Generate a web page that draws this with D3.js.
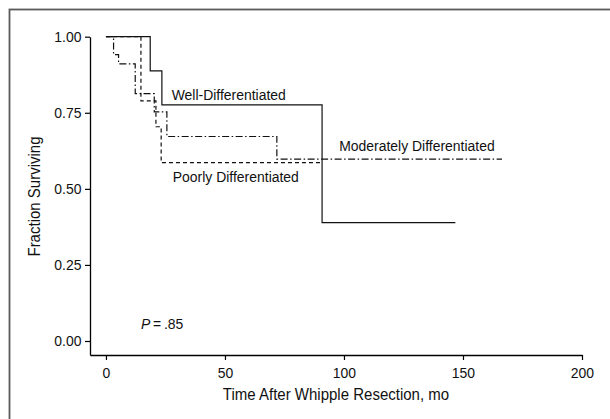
<!DOCTYPE html>
<html>
<head>
<meta charset="utf-8">
<script src="https://cdn.jsdelivr.net/npm/d3@7"></script>
<style>
  html, body { margin: 0; padding: 0; background: #fff; }
  svg { display: block; }
  text { font-family: "Liberation Sans", Arial, Helvetica, sans-serif; fill: #111; }
</style>
</head>
<body>
<svg id="chart" width="610" height="419"></svg>
<script>
// ---- Data (Kaplan-Meier step curves) ----
const wellTimes = [0, 18.6, 23.5, 90.8];
const wellSurv  = [1.00, 0.888, 0.776, 0.389];
const wellEnd   = 146.8;

const modTimes = [0, 3.2, 5.3, 12.3, 20.3, 25.6, 71.8];
const modSurv  = [1.00, 0.941, 0.911, 0.813, 0.753, 0.672, 0.598];
const modEnd   = 166.4;

const poorTimes = [0, 14.7, 21.0, 23.2];
const poorSurv  = [1.00, 0.789, 0.704, 0.586];
const poorEnd   = 90.8;

const xTicks = [0, 50, 100, 150, 200];
const yTicks = [0, 0.25, 0.50, 0.75, 1.00];

const labelNames = ["Well-Differentiated", "Moderately Differentiated", "Poorly Differentiated"];
const labelX = [27.6, 98.0, 28.1];
const labelY = [0.792, 0.624, 0.523];

const xTitle = "Time After Whipple Resection, mo";
const yTitle = "Fraction Surviving";
const pText = "P";
const pValue = "\u2009=\u2009.85";
const pX = 14.7, pY = 0.040;

// ---- Drawing ----
const svg = d3.select("#chart");
const SX = 0.9; // condensed look of the original typeface

// horizontally condense a text element around its anchor x
function condense(sel, sx) {
  sel.each(function () {
    const t = d3.select(this);
    const ax = +t.attr("x") || 0;
    const prev = t.attr("transform") || "";
    t.attr("transform", `${prev} translate(${ax},0) scale(${sx},1) translate(${-ax},0)`);
  });
}

// outer frame
svg.append("rect")
  .attr("x", 9.5).attr("y", 9.5)
  .attr("width", 700).attr("height", 500)
  .attr("fill", "none").attr("stroke", "#5a5a5a").attr("stroke-width", 1.8);

const x = d3.scaleLinear().domain([-6.7, 200]).range([90, 582]);
const y = d3.scaleLinear().domain([-0.046, 1]).range([355, 36.7]);

const xAxis = d3.axisBottom(x).tickValues(xTicks).tickFormat(d3.format("d"))
  .tickSize(5).tickSizeOuter(0).tickPadding(7);
const yAxis = d3.axisLeft(y).tickValues(yTicks).tickFormat(d3.format(".2f"))
  .tickSize(5).tickSizeOuter(0).tickPadding(3.5);

const gx = svg.append("g").attr("transform", `translate(0,${y(-0.046)})`).call(xAxis);
const gy = svg.append("g").attr("transform", `translate(${x(-6.7)},0)`).call(yAxis);
[gx, gy].forEach(g => {
  g.select(".domain").attr("stroke", "#000").attr("stroke-width", 1.3);
  g.selectAll(".tick line").attr("stroke", "#000").attr("stroke-width", 1.2);
  g.selectAll(".tick text").attr("font-size", 15.5).attr("font-family", null).attr("fill", "#111")
    .call(condense, SX);
});

// axis titles
svg.append("text")
  .attr("x", (x.range()[0] + x.range()[1]) / 2).attr("y", 400)
  .attr("text-anchor", "middle").attr("font-size", 16.5)
  .text(xTitle)
  .call(condense, 0.91);
svg.append("text")
  .attr("transform", `translate(39.5,${196.5}) rotate(-90) scale(0.91,1)`)
  .attr("text-anchor", "middle").attr("font-size", 16.5)
  .text(yTitle);

// step curves
function stepPoints(times, surv, end) {
  const pts = times.map((t, i) => [t, surv[i]]);
  pts.push([end, surv[surv.length - 1]]);
  return pts;
}
const line = d3.line().x(d => x(d[0])).y(d => y(d[1])).curve(d3.curveStepAfter);

const curves = [
  { pts: stepPoints(poorTimes, poorSurv, poorEnd), dash: "4,3" },
  { pts: stepPoints(modTimes, modSurv, modEnd), dash: "7,2.5,1.5,2.5" },
  { pts: stepPoints(wellTimes, wellSurv, wellEnd), dash: null }
];
svg.selectAll("path.curve").data(curves).join("path")
  .attr("class", "curve")
  .attr("d", d => line(d.pts))
  .attr("fill", "none")
  .attr("stroke", "#111")
  .attr("stroke-width", 1.2)
  .attr("stroke-dasharray", d => d.dash);

// curve labels
svg.selectAll("text.lbl").data(labelNames).join("text")
  .attr("class", "lbl")
  .attr("x", (d, i) => x(labelX[i]))
  .attr("y", (d, i) => y(labelY[i]))
  .attr("font-size", 15.5)
  .text(d => d)
  .call(condense, SX);

// P value
const pt = svg.append("text").attr("x", x(pX)).attr("y", y(pY)).attr("font-size", 15.5);
pt.append("tspan").attr("font-style", "italic").text(pText);
pt.append("tspan").text(pValue);
pt.call(condense, SX);
</script>
</body>
</html>
